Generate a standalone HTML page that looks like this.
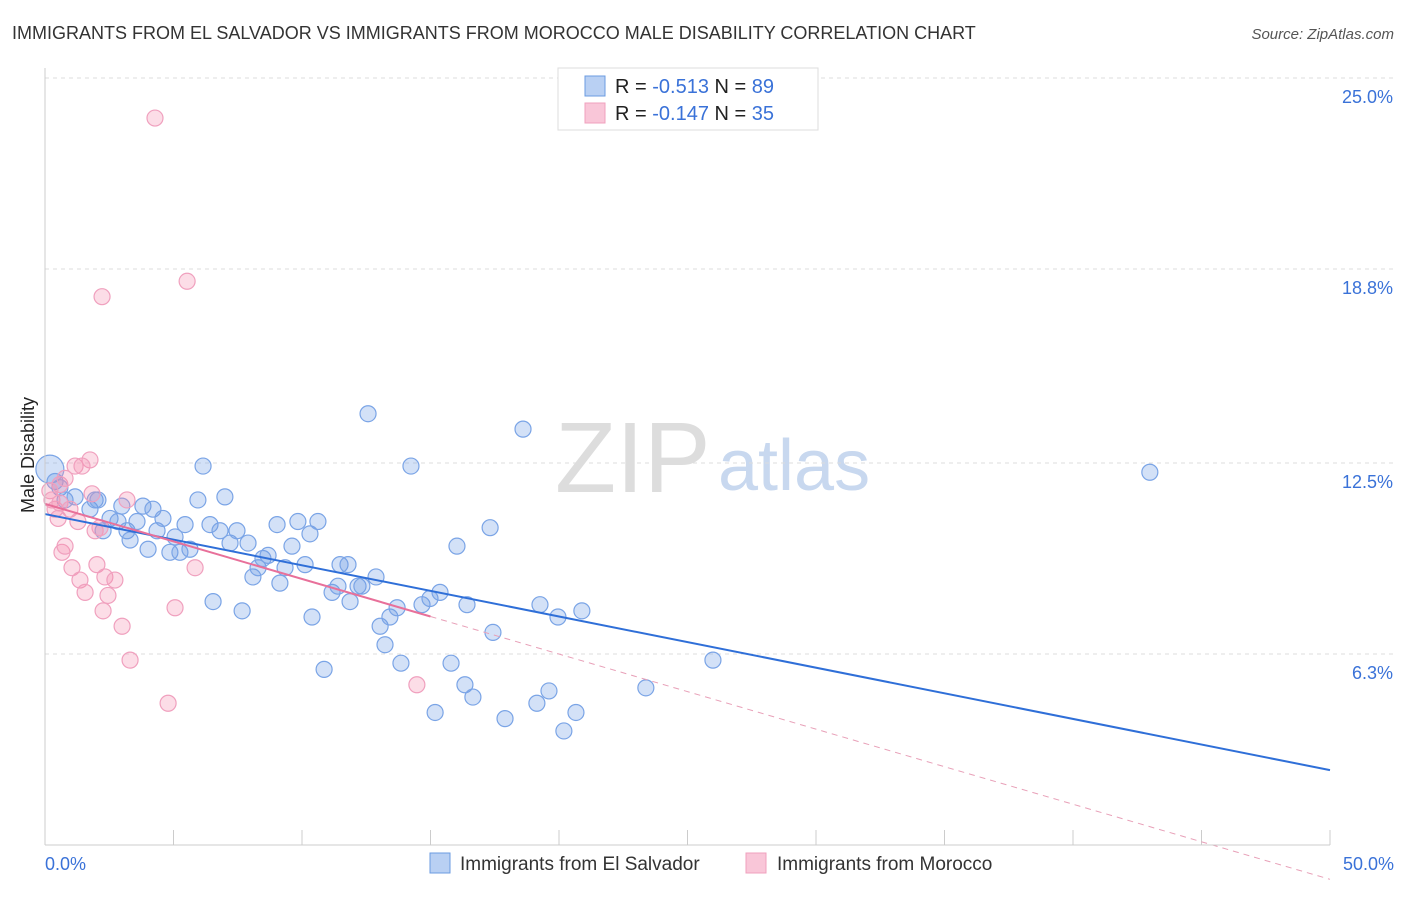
<!DOCTYPE html>
<html><head><meta charset="utf-8"><style>
body{margin:0;background:#fff;font-family:"Liberation Sans",sans-serif;}
svg text{font-family:"Liberation Sans",sans-serif;}
</style></head><body>
<svg id="c" width="1406" height="892">
<text x="12" y="39" font-size="18" fill="#333">IMMIGRANTS FROM EL SALVADOR VS IMMIGRANTS FROM MOROCCO MALE DISABILITY CORRELATION CHART</text>
<text x="1394" y="39" font-size="15" fill="#555" text-anchor="end" font-style="italic">Source: ZipAtlas.com</text>
<text x="34" y="455" font-size="18" fill="#222" text-anchor="middle" transform="rotate(-90 34 455)">Male Disability</text>
<text x="555" y="492" font-size="100" fill="#ddd" font-family="Liberation Serif">ZIP</text>
<text x="718" y="490" font-size="72" fill="#c8d8ef">atlas</text>
<g id="grid"></g><g id="pts"></g><g id="lines"></g>
<line x1="45" y1="68" x2="45" y2="845" stroke="#ccc"/>
<line x1="45" y1="845" x2="1330" y2="845" stroke="#ccc"/>
<text x="45" y="870" font-size="18" fill="#3a72d8">0.0%</text>
<text x="1394" y="870" font-size="18" fill="#3a72d8" text-anchor="end">50.0%</text>
<g>
<rect x="558" y="68" width="260" height="62" fill="#fff" stroke="#ddd"/>
<rect x="585" y="76" width="20" height="20" fill="#b9d0f3" stroke="#6b9be0"/>
<text x="615" y="93" font-size="20" fill="#222">R = <tspan fill="#3a72d8">-0.513</tspan>   N = <tspan fill="#3a72d8">89</tspan></text>
<rect x="585" y="103" width="20" height="20" fill="#f9c6d8" stroke="#f0a0be"/>
<text x="615" y="120" font-size="20" fill="#222">R = <tspan fill="#3a72d8">-0.147</tspan>   N = <tspan fill="#3a72d8">35</tspan></text>
</g>
<g>
<rect x="430" y="853" width="20" height="20" fill="#b9d0f3" stroke="#6b9be0"/>
<text x="460" y="870" font-size="19" fill="#333">Immigrants from El Salvador</text>
<rect x="746" y="853" width="20" height="20" fill="#f9c6d8" stroke="#f0a0be"/>
<text x="777" y="870" font-size="19" fill="#333">Immigrants from Morocco</text>
</g>
</svg>
<script>
const yTicks=[25.0,18.8,12.5,6.3];
const yTickLabels=["25.0%","18.8%","12.5%","6.3%"];
const blueX=[0.19,0.39,0.58,0.78,1.17,1.75,1.95,2.06,2.26,2.53,2.84,2.99,3.19,3.31,3.58,3.81,4.01,4.20,4.36,4.59,4.86,5.06,5.25,5.45,5.64,5.95,6.15,6.42,6.54,6.81,7.00,7.20,7.47,7.67,7.90,8.09,8.29,8.48,8.68,9.03,9.14,9.34,9.61,9.84,10.12,10.31,10.39,10.62,10.86,11.17,11.40,11.48,11.79,11.87,12.18,12.33,12.57,12.88,13.04,13.23,13.42,13.70,13.85,14.24,14.67,14.98,15.18,15.37,15.80,16.03,16.34,16.42,16.65,17.32,17.43,17.90,18.60,19.14,19.26,19.61,19.96,20.19,20.66,20.89,23.38,25.99,42.99];
const blueY=[12.3,11.9,11.7,11.3,11.4,11.0,11.3,11.3,10.3,10.7,10.6,11.1,10.3,10.0,10.6,11.1,9.7,11.0,10.3,10.7,9.6,10.1,9.6,10.5,9.7,11.3,12.4,10.5,8.0,10.3,11.4,9.9,10.3,7.7,9.9,8.8,9.1,9.4,9.5,10.5,8.6,9.1,9.8,10.6,9.2,10.2,7.5,10.6,5.8,8.3,8.5,9.2,9.2,8.0,8.5,8.5,14.1,8.8,7.2,6.6,7.5,7.8,6.0,12.4,7.9,8.1,4.4,8.3,6.0,9.8,5.3,7.9,4.9,10.4,7.0,4.2,13.6,4.7,7.9,5.1,7.5,3.8,4.4,7.7,5.2,6.1,12.2];
const pinkX=[4.28,2.22,5.53,1.75,1.17,1.44,0.58,0.78,0.19,0.27,0.39,0.51,0.58,0.97,1.28,1.83,1.95,2.14,3.19,0.66,0.78,1.05,1.36,1.56,2.02,2.33,2.45,2.72,2.26,3.00,3.31,5.06,5.84,4.79,14.47];
const pinkY=[23.7,17.9,18.4,12.6,12.4,12.4,11.8,12.0,11.6,11.3,11.0,10.7,11.2,11.0,10.6,11.5,10.3,10.4,11.3,9.6,9.8,9.1,8.7,8.3,9.2,8.8,8.2,8.7,7.7,7.2,6.1,7.8,9.1,4.7,5.3];
const NS="http://www.w3.org/2000/svg";
function sx(v){return 45+v/50*1285;}
function sy(v){return 78+(25-v)*30.8;}
function el(t,a,p){const e=document.createElementNS(NS,t);for(const k in a)e.setAttribute(k,a[k]);p.appendChild(e);return e;}
const grid=document.getElementById('grid');
yTicks.forEach((t,i)=>{
 const l=el('line',{x1:45,x2:1394,y1:sy(t),y2:sy(t),stroke:'#ddd','stroke-dasharray':'4,4'},grid);
 
 
 const tx=el('text',{x:1393,y:sy(t)+25,'font-size':18,fill:'#3a72d8','text-anchor':'end'},grid);
 tx.textContent=yTickLabels[i];
 
 
});
for(let i=1;i<=10;i++){
 const l=el('line',{x1:sx(i*5),x2:sx(i*5),y1:830,y2:845,stroke:'#ccc'},grid);
 
 
}
const pts=document.getElementById('pts');
blueX.forEach((x,i)=>{
 const c=el('circle',{cx:sx(x),cy:sy(blueY[i]),r:i==0?14:8,fill:'rgba(110,155,230,0.3)',stroke:'#7aa4e6','stroke-width':1.2},pts);
 
 
});
pinkX.forEach((x,i)=>{
 const c=el('circle',{cx:sx(x),cy:sy(pinkY[i]),r:8,fill:'rgba(244,143,177,0.3)',stroke:'#f0a0be','stroke-width':1.2},pts);
 
 
});
const lines=document.getElementById('lines');
function fit(X,Y){const n=X.length;let mx=0,my=0;X.forEach((x,i)=>{mx+=x;my+=Y[i];});mx/=n;my/=n;let a=0,b=0;X.forEach((x,i)=>{a+=(x-mx)*(Y[i]-my);b+=(x-mx)**2;});const s=a/b;return [s,my-s*mx];}
const bf=fit(blueX,blueY);
let l=el('line',{x1:sx(0),y1:sy(bf[1]),x2:sx(50),y2:sy(bf[1]+bf[0]*50),stroke:'#2f6fd8','stroke-width':2},lines);


const pf=fit(pinkX,pinkY);
l=el('line',{x1:sx(0),y1:sy(pf[1]),x2:sx(15),y2:sy(pf[1]+pf[0]*15),stroke:'#e8709a','stroke-width':2},lines);


l=el('line',{x1:sx(15),y1:sy(pf[1]+pf[0]*15),x2:sx(50),y2:sy(pf[1]+pf[0]*50),stroke:'#e8a0b8','stroke-width':1,'stroke-dasharray':'6,5'},lines);


</script>
</body></html>
